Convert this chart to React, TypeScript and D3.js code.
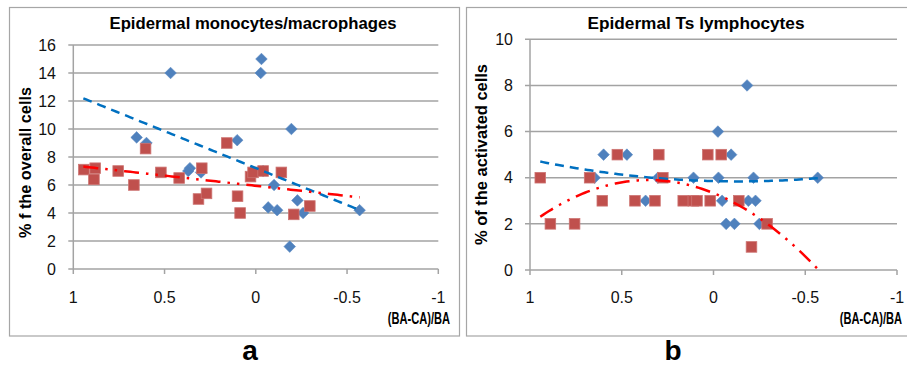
import React from "react";
import * as d3 from "d3";

// Shared x axis: relative difference (BA-CA)/BA, reversed from 1 to -1
const xTicks = [1, 0.5, 0, -0.5, -1];
const xTickLabels = ["1", "0.5", "0", "-0.5", "-1"];
const xAxisTitle = "(BA-CA)/BA";

// Panel a: epidermal monocytes/macrophages
const monoTitle = "Epidermal monocytes/macrophages";
const monoYTitle = "% f the overall cells";
const monoYTicks = [0, 2, 4, 6, 8, 10, 12, 14, 16];
const monoBlue: [number, number][] = [
  [0.467, 14], [-0.031, 15], [-0.027, 14], [-0.195, 10], [0.653, 9.4],
  [0.599, 9.0], [0.102, 9.2], [0.361, 7.2], [0.37, 7.0], [0.3, 6.9],
  [-0.04, 7.0], [-0.1, 6.0], [-0.068, 4.4], [-0.117, 4.2], [-0.228, 4.9],
  [-0.259, 4.0], [-0.569, 4.2], [-0.186, 1.6],
];
const monoRed: [number, number][] = [
  [0.942, 7.1], [0.88, 7.2], [0.887, 6.4], [0.754, 7.0], [0.668, 6.0],
  [0.604, 8.6], [0.52, 6.9], [0.42, 6.5], [0.314, 5.0], [0.296, 7.2],
  [0.27, 5.4], [0.159, 9.0], [0.1, 5.2], [0.086, 4.0], [0.029, 6.6],
  [0.015, 6.9], [-0.04, 7.0], [-0.14, 6.9], [-0.208, 3.9], [-0.296, 4.5],
];
// Trendline coefficients [c0, c1, c2] for y = c0 + c1*x + c2*x^2
const monoBlueFit = [7.21, 5.27, 0];
const monoRedFit = [5.945, 1.449, 0];
const monoFitRange: [number, number] = [-0.569, 0.945];

// Panel b: epidermal Ts lymphocytes
const tsTitle = "Epidermal Ts lymphocytes";
const tsYTitle = "% of the activated cells";
const tsYTicks = [0, 2, 4, 6, 8, 10];
const tsBlue: [number, number][] = [
  [-0.183, 8], [-0.024, 6], [0.599, 5], [0.472, 5], [-0.096, 5],
  [0.648, 4], [0.303, 4], [0.109, 4], [-0.027, 4], [-0.218, 4],
  [-0.568, 4], [0.37, 3], [-0.047, 3], [-0.19, 3], [-0.229, 3],
  [-0.069, 2], [-0.114, 2], [-0.25, 2],
];
const tsRed: [number, number][] = [
  [0.944, 4], [0.889, 2], [0.757, 2], [0.675, 4], [0.606, 3],
  [0.524, 5], [0.428, 3], [0.319, 3], [0.298, 5], [0.276, 4],
  [0.165, 3], [0.11, 3], [0.09, 3], [0.018, 3], [0.031, 5],
  [-0.042, 5], [-0.138, 3], [-0.292, 2], [-0.207, 1],
];
const tsBlueFit = [3.853, 0.1974, 0.7415];
const tsRedFit = [3.334, 3.21, -4.55];
const tsFitRange: [number, number] = [-0.573, 0.944];

const FONT = "'Liberation Sans', Arial, sans-serif";
const GRID = "#a3a3a3";
const BLUE = "#4f81bd";
const RED = "#c0504d";

type PanelProps = {
  id: string;
  box: [number, number, number, number];
  xRange: [number, number];
  yRange: [number, number];
  yMax: number;
  yTicks: number[];
  yLabelX: number;
  title: string;
  titleX: number;
  titleW: number;
  yTitle: string;
  yTitleX: number;
  yTitleY: number;
  yTitleW: number;
  xTitleEnd: number;
  blue: [number, number][];
  red: [number, number][];
  blueFit: number[];
  redFit: number[];
  fitRange: [number, number];
  letter: string;
  letterX: number;
};

function Panel(p: PanelProps) {
  const x = d3.scaleLinear().domain([1, -1]).range(p.xRange);
  const y = d3.scaleLinear().domain([0, p.yMax]).range(p.yRange);
  const [bx, by, bw, bh] = p.box;
  const [x0, x1] = p.xRange;
  const [y0, y1] = p.yRange;

  const fitPoints = (c: number[]) =>
    d3.range(0, 101).map((i) => {
      const xv = p.fitRange[1] + ((p.fitRange[0] - p.fitRange[1]) * i) / 100;
      return [xv, c[0] + c[1] * xv + c[2] * xv * xv] as [number, number];
    });
  const line = d3
    .line<[number, number]>()
    .x((d) => x(d[0]))
    .y((d) => y(d[1]));
  const diamond = (cx: number, cy: number, r: number) =>
    `M${cx},${cy - r}L${cx + r},${cy}L${cx},${cy + r}L${cx - r},${cy}Z`;

  return (
    <g>
      <defs>
        <clipPath id={`clip-${p.id}`}>
          <rect x={x0} y={y1} width={x1 - x0} height={y0 - y1} />
        </clipPath>
      </defs>
      <rect x={bx} y={by} width={bw} height={bh} fill="#fff" stroke="#a6a6a6" strokeWidth={1.2} />
      {/* horizontal gridlines and y ticks */}
      {p.yTicks.map((t) => (
        <g key={`y${t}`}>
          <line x1={x0 - 5} x2={x1} y1={y(t)} y2={y(t)} stroke={GRID} strokeWidth={1.5} />
          <text x={p.yLabelX} y={y(t)} dy="0.36em" textAnchor="end" fontFamily={FONT} fontSize={16} fill="#111">
            {t}
          </text>
        </g>
      ))}
      {/* vertical axis line */}
      <line x1={x0} x2={x0} y1={y1} y2={y0} stroke={GRID} strokeWidth={1.5} />
      {/* x ticks */}
      {xTicks.map((t, i) => (
        <g key={`x${t}`}>
          <line x1={x(t)} x2={x(t)} y1={y0} y2={y0 + 5} stroke={GRID} strokeWidth={1.5} />
          <text x={x(t)} y={303} textAnchor="middle" fontFamily={FONT} fontSize={16} fill="#111">
            {xTickLabels[i]}
          </text>
        </g>
      ))}
      {/* markers */}
      {p.blue.map((d, i) => (
        <path key={`b${i}`} d={diamond(x(d[0]), y(d[1]), 5.8)} fill={BLUE} stroke="#5a8ac3" strokeWidth={0.6} />
      ))}
      {p.red.map((d, i) => (
        <rect
          key={`r${i}`}
          x={x(d[0]) - 5.3}
          y={y(d[1]) - 5.3}
          width={10.6}
          height={10.6}
          fill={RED}
          stroke="#cd7472"
          strokeWidth={0.8}
        />
      ))}
      {/* trendlines */}
      <g clipPath={`url(#clip-${p.id})`}>
        <path d={line(fitPoints(p.blueFit)) || ""} fill="none" stroke="#0070c0" strokeWidth={2.5} strokeDasharray="9 6" />
        <path
          d={line(fitPoints(p.redFit)) || ""}
          fill="none"
          stroke="#ff0000"
          strokeWidth={2.5}
          strokeDasharray="15 7 2.5 7 2.5 7"
        />
      </g>
      {/* titles */}
      <text
        x={p.titleX}
        y={29}
        textAnchor="middle"
        fontFamily={FONT}
        fontWeight="bold"
        fontSize={16.5}
        textLength={p.titleW}
        lengthAdjust="spacingAndGlyphs"
        fill="#000"
      >
        {p.title}
      </text>
      <text
        transform={`translate(${p.yTitleX},${p.yTitleY}) rotate(-90)`}
        textAnchor="middle"
        fontFamily={FONT}
        fontWeight="bold"
        fontSize={17}
        textLength={p.yTitleW}
        lengthAdjust="spacingAndGlyphs"
        fill="#000"
      >
        {p.yTitle}
      </text>
      {/* axis title narrowed horizontally to a condensed look */}
      <text
        transform={`translate(${p.xTitleEnd},324) scale(0.653,1)`}
        textAnchor="end"
        fontFamily={FONT}
        fontWeight="bold"
        fontSize={17}
        fill="#000"
      >
        {xAxisTitle}
      </text>
      <text x={p.letterX} y={360} textAnchor="middle" fontFamily={FONT} fontWeight="bold" fontSize={28} fill="#000">
        {p.letter}
      </text>
    </g>
  );
}

export default function App() {
  return (
    <svg
      width={907}
      height={366}
      viewBox="0 0 907 366"
      style={{ position: "absolute", left: 0, top: 0, background: "#fff" }}
    >
      <Panel
        id="a"
        box={[9.5, 7.5, 450, 328.5]}
        xRange={[73.3, 438.3]}
        yRange={[269, 45]}
        yMax={16}
        yTicks={monoYTicks}
        yLabelX={56}
        title={monoTitle}
        titleX={253}
        titleW={287}
        yTitle={monoYTitle}
        yTitleX={31}
        yTitleY={162.5}
        yTitleW={151}
        xTitleEnd={450}
        blue={monoBlue}
        red={monoRed}
        blueFit={monoBlueFit}
        redFit={monoRedFit}
        fitRange={monoFitRange}
        letter="a"
        letterX={250}
      />
      <Panel
        id="b"
        box={[466.5, 7.5, 445, 328.5]}
        xRange={[530, 897]}
        yRange={[270, 39.3]}
        yMax={10}
        yTicks={tsYTicks}
        yLabelX={513}
        title={tsTitle}
        titleX={696}
        titleW={217}
        yTitle={tsYTitle}
        yTitleX={487}
        yTitleY={154.5}
        yTitleW={181}
        xTitleEnd={902}
        blue={tsBlue}
        red={tsRed}
        blueFit={tsBlueFit}
        redFit={tsRedFit}
        fitRange={tsFitRange}
        letter="b"
        letterX={673}
      />
    </svg>
  );
}
